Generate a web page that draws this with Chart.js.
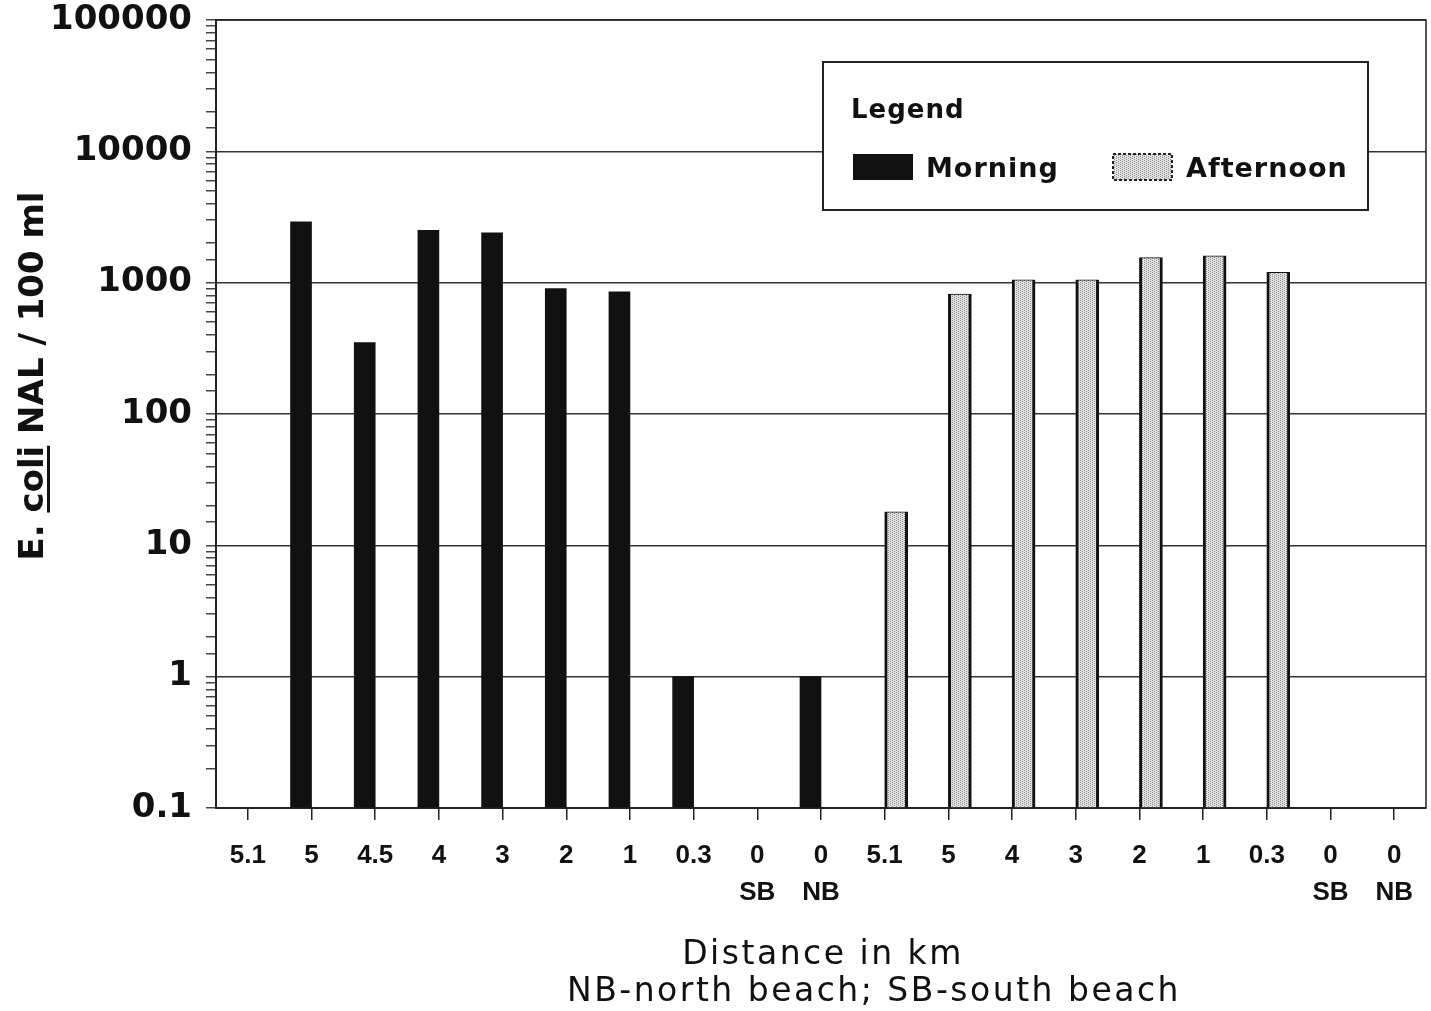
<!DOCTYPE html>
<html>
<head>
<meta charset="utf-8">
<script src="https://cdn.jsdelivr.net/npm/chart.js@4/dist/chart.umd.min.js"></script>
<style>
  html, body { margin: 0; padding: 0; background: #fff; }
</style>
</head>
<body>
<canvas id="myChart" width="1431" height="1011"></canvas>
<script>
// distance labels (km), morning run then afternoon run
const distanceLabels = ['5.1', '5', '4.5', '4', '3', '2', '1', '0.3', ['0', 'SB'], ['0', 'NB'],
                        '5.1', '5', '4', '3', '2', '1', '0.3', ['0', 'SB'], ['0', 'NB']];
const morning = [null, 2900, 350, 2500, 2400, 900, 850, 1, null, 1,
                 null, null, null, null, null, null, null, null, null];
const afternoon = [null, null, null, null, null, null, null, null, null, null,
                   18, 820, 1050, 1050, 1550, 1600, 1200, null, null];
const yTickValues = [0.1, 1, 10, 100, 1000, 10000, 100000];
const xTitle = ['Distance in km', 'NB-north beach; SB-south beach'];
const yTitle = ['E. ', 'coli', ' NAL / 100 ml'];

function isDecade(v) {
  const l = Math.log10(v);
  return Math.abs(l - Math.round(l)) < 1e-6;
}

function stipple() {
  const c = document.createElement('canvas');
  c.width = 4; c.height = 4;
  const g = c.getContext('2d');
  g.fillStyle = '#e2e2e2';
  g.fillRect(0, 0, 4, 4);
  g.fillStyle = '#8c8c8c';
  g.fillRect(0, 0, 1, 1);
  g.fillRect(2, 1, 1, 1);
  g.fillRect(0, 2, 1, 1);
  g.fillRect(2, 3, 1, 1);
  return g.createPattern(c, 'repeat');
}
const afternoonFill = stipple();

// frame on top and right of the plot
const frame = {
  id: 'frame',
  afterDatasetsDraw(chart) {
    const { ctx, chartArea: a } = chart;
    ctx.save();
    ctx.strokeStyle = '#222';
    ctx.lineWidth = 1.5;
    ctx.beginPath();
    ctx.moveTo(a.left, a.top);
    ctx.lineTo(a.right, a.top);
    ctx.lineTo(a.right, a.bottom);
    ctx.stroke();
    ctx.restore();
  }
};

// axis titles (letter spaced, "coli" underlined)
const axisTitles = {
  id: 'axisTitles',
  afterDraw(chart) {
    const ctx = chart.ctx;
    ctx.save();
    ctx.fillStyle = '#111';
    ctx.textAlign = 'center';
    ctx.textBaseline = 'middle';
    ctx.letterSpacing = '2.5px';
    ctx.font = '33px "DejaVu Sans"';
    ctx.fillText(xTitle[0], 823, 955);
    ctx.fillText(xTitle[1], 874, 992);
    ctx.restore();

    ctx.save();
    ctx.translate(31, 376);
    ctx.rotate(-Math.PI / 2);
    ctx.fillStyle = '#111';
    ctx.font = 'bold 34px "DejaVu Sans"';
    ctx.textBaseline = 'alphabetic';
    ctx.textAlign = 'left';
    const full = yTitle.join('');
    const w = ctx.measureText(full).width;
    const x0 = -w / 2;
    ctx.fillText(full, x0, 12);
    const u0 = x0 + ctx.measureText(yTitle[0]).width;
    const uw = ctx.measureText(yTitle[1]).width;
    ctx.fillRect(u0, 16, uw, 3);
    ctx.restore();
  }
};

// boxed legend inside the plot
const legendBox = {
  id: 'legendBox',
  afterDraw(chart) {
    const ctx = chart.ctx;
    const x = 823, y = 62, w = 545, h = 148;
    ctx.save();
    ctx.fillStyle = '#fff';
    ctx.fillRect(x, y, w, h);
    ctx.strokeStyle = '#222';
    ctx.lineWidth = 2;
    ctx.strokeRect(x, y, w, h);
    ctx.fillStyle = '#111';
    ctx.textBaseline = 'middle';
    ctx.font = 'bold 26px "DejaVu Sans"';
    ctx.letterSpacing = '1px';
    ctx.fillText('Legend', 851, 111);
    const ds = chart.data.datasets;
    ctx.fillStyle = ds[0].backgroundColor;
    ctx.fillRect(853, 154, 60, 26);
    ctx.fillStyle = '#111';
    ctx.font = 'bold 27px "DejaVu Sans"';
    ctx.fillText(ds[0].label, 926, 170);
    ctx.fillStyle = ds[1].backgroundColor;
    ctx.fillRect(1113, 154, 59, 26);
    ctx.strokeStyle = '#222';
    ctx.lineWidth = 2;
    ctx.setLineDash([3, 2]);
    ctx.strokeRect(1113, 154, 59, 26);
    ctx.setLineDash([]);
    ctx.fillStyle = '#111';
    ctx.fillText(ds[1].label, 1186, 170);
    ctx.restore();
  }
};

Chart.defaults.font.family = '"Liberation Sans", Arial, sans-serif';
Chart.defaults.color = '#111';

new Chart(document.getElementById('myChart'), {
  type: 'bar',
  data: {
    labels: distanceLabels,
    datasets: [
      {
        label: 'Morning',
        data: morning,
        backgroundColor: '#111',
        borderColor: '#111',
        borderWidth: 0,
        barThickness: 21
      },
      {
        label: 'Afternoon',
        data: afternoon,
        backgroundColor: afternoonFill,
        borderColor: '#111',
        borderWidth: { left: 3, right: 3, top: 1, bottom: 0 },
        barThickness: 23
      }
    ]
  },
  options: {
    responsive: false,
    animation: false,
    layout: { padding: { top: 20, right: 5, left: 0, bottom: 0 } },
    datasets: { bar: { base: 0.1 } },
    plugins: {
      legend: { display: false },
      tooltip: { enabled: false }
    },
    scales: {
      x: {
        grid: { offset: false, drawOnChartArea: false, tickLength: 12, color: '#222', lineWidth: 1.5 },
        border: { color: '#222', width: 2 },
        ticks: {
          font: { size: 26, weight: 'bold', lineHeight: 1.4 },
          padding: 18,
          maxRotation: 0,
          autoSkip: false
        },
        afterFit(scale) {
          scale.height = 203;
          scale.paddingLeft = 0;
          scale.paddingRight = 0;
        }
      },
      y: {
        type: 'logarithmic',
        min: 0.1,
        max: 100000,
        grid: {
          color: (ctx) => (ctx.tick && isDecade(ctx.tick.value)) ? '#333' : 'rgba(0,0,0,0)',
          tickColor: '#444',
          tickLength: 10,
          lineWidth: 1.5
        },
        border: { color: '#222', width: 2 },
        ticks: {
          autoSkip: false,
          padding: 14,
          font: { size: 34, weight: 'bold', family: '"DejaVu Sans"' },
          callback: (v) => yTickValues.includes(v) || isDecade(v) ? String(v) : ''
        },
        afterFit(scale) {
          scale.width = 216;
          scale.paddingTop = 0;
          scale.paddingBottom = 0;
        }
      }
    }
  },
  plugins: [frame, axisTitles, legendBox]
});
</script>
</body>
</html>
